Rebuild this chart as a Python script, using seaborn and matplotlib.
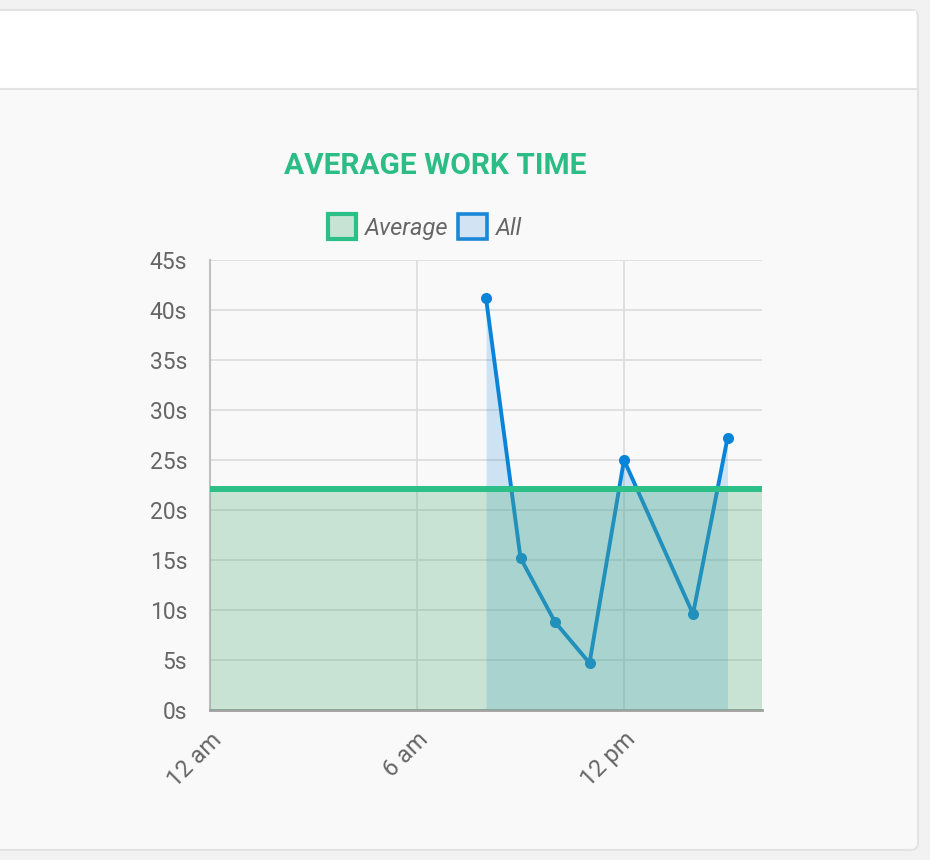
import numpy as np
import pandas as pd
import seaborn as sns
import matplotlib.pyplot as plt
from matplotlib.patches import Patch, FancyBboxPatch, Rectangle

# data (hour of day, seconds)
hours = [8, 9, 10, 11, 12, 14, 15]
all_secs = [41.2, 15.2, 8.8, 4.7, 25.0, 9.6, 27.2]
avg_hours = [0, 16]
avg_secs = [22.1, 22.1]
x_ticks = [0, 6, 12]
x_labels = ["12 am", "6 am", "12 pm"]
y_ticks = [0, 5, 10, 15, 20, 25, 30, 35, 40, 45]

df = pd.DataFrame({"hour": hours, "secs": all_secs})
avg_df = pd.DataFrame({"hour": avg_hours, "secs": avg_secs})

sns.set_theme(style="white")
plt.rcParams["font.family"] = ["Roboto", "DejaVu Sans"]

W, H = 930, 860
fig = plt.figure(figsize=(W / 100, H / 100), dpi=100)
fig.patch.set_facecolor("#f2f2f2")

def fx(px):
    return px / W

def fy(py):
    return 1 - py / H

# card background
card = FancyBboxPatch((fx(-20), fy(850)), fx(938), fy(10) - fy(850),
                      boxstyle="round,pad=0,rounding_size=0.008",
                      transform=fig.transFigure, facecolor="#f9f9f9",
                      edgecolor="#e3e3e3", linewidth=1.5, zorder=-3)
fig.patches.append(card)
header = Rectangle((fx(-20), fy(89)), fx(936), fy(11) - fy(89),
                   transform=fig.transFigure, facecolor="white",
                   edgecolor="none", zorder=-2)
fig.patches.append(header)
fig.add_artist(plt.Line2D([0, fx(917)], [fy(89), fy(89)], transform=fig.transFigure,
                          color="#e3e3e3", linewidth=1.5, zorder=-1))

ax = fig.add_axes([fx(210), fy(710), fx(762) - fx(210), fy(260) - fy(710)])
ax.set_facecolor("#f9f9f9")

blue = "#0a84d8"
green_line = "#2cbf87"

# "All" series: fill under the line, and up to the average level
ax.fill_between(df["hour"], 0, df["secs"], color=blue, alpha=0.18, linewidth=0, zorder=1)
ax.fill_between(df["hour"], df["secs"], avg_secs[0], where=df["secs"] < avg_secs[0],
                interpolate=True, color=blue, alpha=0.18, linewidth=0, zorder=1)
sns.lineplot(data=df, x="hour", y="secs", ax=ax, color=blue, linewidth=2.8,
             marker="o", markersize=8, markeredgewidth=0, zorder=2)

# "Average" series on top
ax.fill_between(avg_df["hour"], 0, avg_df["secs"], color="#58b07c", alpha=0.3,
                linewidth=0, zorder=3)
sns.lineplot(data=avg_df, x="hour", y="secs", ax=ax, color=green_line,
             linewidth=4.3, zorder=4)

ax.set_xlim(0, 16)
ax.set_ylim(0, 45)
ax.set_xticks(x_ticks)
ax.set_xticklabels(x_labels, rotation=45, ha="right", rotation_mode="anchor")
ax.set_yticks(y_ticks)
ax.set_yticklabels([f"{v}s" for v in y_ticks])
ax.set_xlabel("")
ax.set_ylabel("")

ax.grid(True, color="#dcdcdc", linewidth=1.2)
ax.set_axisbelow(True)
ax.tick_params(axis="y", length=15.5, width=1.2, color="#dcdcdc", pad=1,
               labelsize=16.5, labelcolor="#666666")
ax.tick_params(axis="x", length=16, width=1.2, color="#dcdcdc", pad=-3,
               labelsize=17, labelcolor="#666666")
for s in ["top", "right"]:
    ax.spines[s].set_visible(False)
ax.spines["left"].set_color("#c0c0c0")
ax.spines["left"].set_linewidth(1.5)
ax.spines["bottom"].set_color("#a0a0a0")
ax.spines["bottom"].set_linewidth(2)

fig.text(fx(435), fy(166), "AVERAGE WORK TIME", ha="center", va="center",
         fontsize=21.5, fontweight="bold", color="#2bbd85")

handles = [
    Patch(facecolor="#c6e3d3", edgecolor=green_line, linewidth=3, label="Average"),
    Patch(facecolor="#d2e4f3", edgecolor="#1a87d8", linewidth=2.6, label="All"),
]
leg = fig.legend(handles=handles, loc="center", bbox_to_anchor=(fx(425), fy(227)),
                 ncol=2, frameon=False, handlelength=1.2, handleheight=1.2,
                 handletextpad=0.4, columnspacing=0.4, borderpad=0,
                 prop={"size": 17, "style": "italic"})
for t in leg.get_texts():
    t.set_color("#666666")

fig.savefig("out.png", dpi=100, facecolor=fig.get_facecolor())
